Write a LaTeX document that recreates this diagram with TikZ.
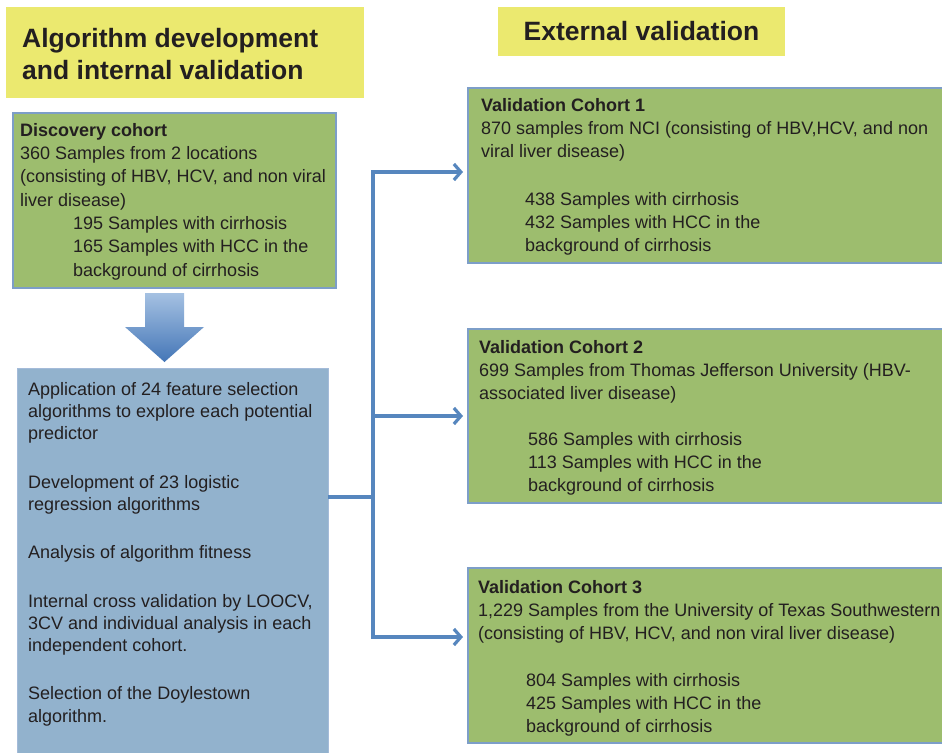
\documentclass[tikz,border=0pt]{standalone}
\usepackage{fontspec}
\setmainfont{Liberation Sans}
\usetikzlibrary{arrows.meta}

\definecolor{titleyellow}{RGB}{235,233,111}
\definecolor{cohortgreen}{RGB}{157,189,110}
\definecolor{stepblue}{RGB}{146,178,205}
\definecolor{edgeblue}{RGB}{125,158,200}
\definecolor{linkblue}{RGB}{86,134,190}
\definecolor{arrowtop}{RGB}{165,193,226}
\definecolor{arrowbot}{RGB}{68,118,183}
\definecolor{inkgrey}{RGB}{35,31,32}

\begin{document}
\begin{tikzpicture}[x=1pt, y=-1pt,
		titlebox/.style={fill=titleyellow, anchor=north west, inner sep=0pt, outer sep=0pt},
		cohort/.style={fill=cohortgreen, draw=edgeblue, line width=1.4pt, anchor=north west, inner sep=0pt, outer sep=0pt},
		steps/.style={fill=stepblue, draw=edgeblue!70, line width=1pt, anchor=north west, inner sep=0pt, outer sep=0pt},
		txt/.style={anchor=north west, inner sep=0pt, align=left, text=inkgrey, font=\fontsize{18}{#1}\selectfont},
		txt/.default=23,
		headline/.style={text=inkgrey, font=\fontsize{26.5}{32}\selectfont\bfseries},
		link/.style={draw=linkblue, line width=3.2pt},
		flow/.style={link, -{Straight Barb[length=7pt, width=16pt]}, shorten >=5pt}]
	\useasboundingbox[fill=white] (0,0) rectangle (942,752);

	% headings
	\node[titlebox, minimum width=358, minimum height=91] (devbox) at (6,7) {};
	\node[headline, anchor=north west, inner sep=0pt, align=left] (devtitle) at (22,28) {Algorithm development\\and internal validation};
	\node[titlebox, minimum width=287, minimum height=49] (extbox) at (498,7) {};
	\node[headline, inner sep=0pt] (exttitle) at (extbox.center) {External validation};

	% discovery cohort
	\node[cohort, minimum width=323, minimum height=175] (disc) at (13,113) {};
	\node[txt=23.3] (disctxt) at (20,123) {\textbf{Discovery cohort}\\
		360 Samples from 2 locations\\
		(consisting of HBV, HCV, and non viral\\
		liver disease)\\
		\hspace*{53pt}195 Samples with cirrhosis\\
		\hspace*{53pt}165 Samples with HCC in the\\
		\hspace*{53pt}background of cirrhosis};

	% big arrow down
	\path[top color=arrowtop, bottom color=arrowbot]
		(145,293) -- (184,293) -- (184,327) -- (204,327) -- (164.5,362) -- (125,327) -- (145,327) -- cycle;

	% development steps
	\node[steps, minimum width=311, minimum height=395] (dev) at (17,368) {};
	\node[txt=22.3] (devtxt) at (28,382) {Application of 24 feature selection\\
		algorithms to explore each potential\\
		predictor\\[26pt]
		Development of 23 logistic\\
		regression algorithms\\[26pt]
		Analysis of algorithm fitness\\[26pt]
		Internal cross validation by LOOCV,\\
		3CV and individual analysis in each\\
		independent cohort.\\[26pt]
		Selection of the Doylestown\\
		algorithm.};

	% validation cohorts
	\node[cohort, minimum width=490, minimum height=175] (val1) at (468,88) {};
	\node[txt] (val1txt) at (481,98) {\textbf{Validation Cohort 1}\\
		870 samples from NCI (consisting of HBV,HCV, and non\\
		viral liver disease)\\[25pt]
		\hspace*{44pt}438 Samples with cirrhosis\\
		\hspace*{44pt}432 Samples with HCC in the\\
		\hspace*{44pt}background of cirrhosis};

	\node[cohort, minimum width=490, minimum height=174] (val2) at (468,329) {};
	\node[txt] (val2txt) at (479,340) {\textbf{Validation Cohort 2}\\
		699 Samples from Thomas Jefferson University (HBV-\\
		associated liver disease)\\[23pt]
		\hspace*{49pt}586 Samples with cirrhosis\\
		\hspace*{49pt}113 Samples with HCC in the\\
		\hspace*{49pt}background of cirrhosis};

	\node[cohort, minimum width=490, minimum height=175] (val3) at (468,568) {};
	\node[txt] (val3txt) at (478,580) {\textbf{Validation Cohort 3}\\
		1,229 Samples from the University of Texas Southwestern\\
		(consisting of HBV, HCV, and non viral liver disease)\\[24pt]
		\hspace*{48pt}804 Samples with cirrhosis\\
		\hspace*{48pt}425 Samples with HCC in the\\
		\hspace*{48pt}background of cirrhosis};

	% connectors
	\coordinate (split) at (373,497);
	\draw[link] (split -| dev.east) -- (split);
	\draw[flow] (split) |- ([yshift=3.5pt]val1.west);
	\draw[flow] (split) |- (val2.west);
	\draw[flow] (split) |- ([yshift=18.5pt]val3.west);
\end{tikzpicture}
\end{document}
